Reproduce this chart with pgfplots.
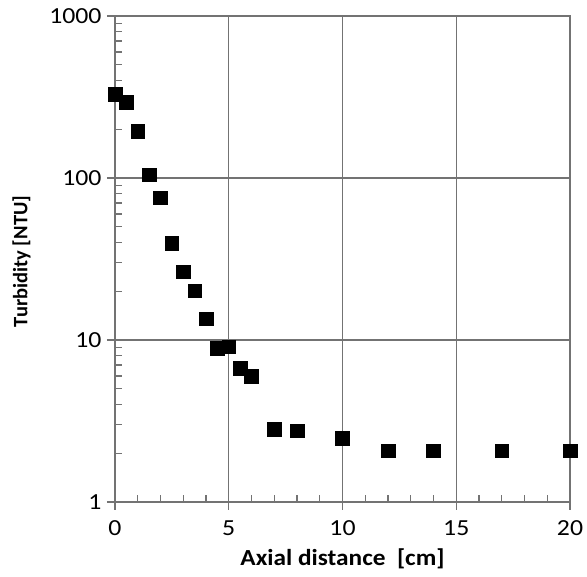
\documentclass[border=0pt]{standalone}
\usepackage{fontspec}
\setmainfont{Carlito}
\usepackage{pgfplots}
\pgfplotsset{compat=1.18}

\pgfplotstableread{
x y
0.0 329
0.5 294
1.0 195
1.5 105
2.0 75.6
2.5 39.5
3.0 26.4
3.5 20.1
4.0 13.5
4.5 8.9
5.0 9.1
5.5 6.7
6.0 6.0
7.0 2.82
8.0 2.76
10.0 2.47
12.0 2.07
14.0 2.07
17.0 2.07
20.0 2.07
}\turbidity

\begin{document}
\begin{tikzpicture}
\begin{axis}[
    name=ax,
    scale only axis,
    width=455pt, height=486pt,
    ymode=log,
    xmin=0, xmax=20, ymin=1, ymax=1000,
    xtick={0,5,10,15,20},
    ytick={1,10,100,1000},
    minor x tick num=4,
    log ticks with fixed point,
    /pgf/number format/1000 sep={},
    xtick pos=left, ytick pos=left,
    tick align=inside,
    major tick length=8pt, minor tick length=7pt,
    every major x tick/.style={yshift=-8pt},
    every major y tick/.style={xshift=-8pt},
    grid=major,
    major grid style={line width=1.3pt, draw=black!55},
    axis line style={line width=1.3pt, draw=black!55},
    every tick/.style={line width=1.2pt, draw=black!55},
    tick label style={font=\fontsize{23}{23}\selectfont, transform shape, xscale=1.12},
    xticklabel style={anchor=base, yshift=-33.5pt},
    yticklabel style={xshift=-8.5pt},
    /pgf/number format/assume math mode=true,
    xlabel={\textbf{Axial distance\ \ [cm]}},
    ylabel={\textbf{Turbidity [NTU]}},
    xlabel style={font=\fontsize{23}{23}\selectfont, transform shape, xscale=1.1,
        at={(axis description cs:0.5,0)}, anchor=base, yshift=-64pt},
    ylabel style={font=\fontsize{20.5}{20.5}\selectfont,
        at={([xshift=-93.5pt]axis description cs:0,0.495)}, anchor=center},
]
\addplot[only marks, mark=square*, mark size=6.8pt, mark options={fill=black, draw=black}]
    table[x=x, y=y] {\turbidity};
\end{axis}
\path (ax.south west) ++(-115pt,-75pt) rectangle ++(587pt,577pt);
\end{tikzpicture}
\end{document}
